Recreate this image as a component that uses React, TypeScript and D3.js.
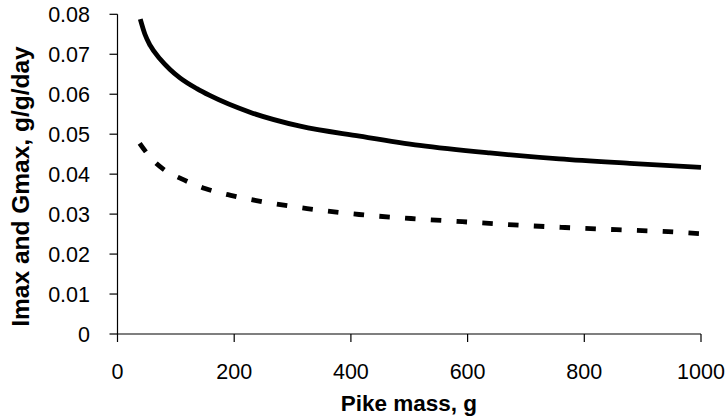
import React from "react";
import * as d3 from "d3";

// Maximum consumption (Imax) and maximum growth (Gmax) versus pike body mass
const imaxMass = [39, 47, 56, 73, 90, 107, 136, 158, 227, 313, 415, 518, 638, 757, 878, 1000];
const imaxValues = [0.0788, 0.075, 0.0722, 0.0688, 0.0662, 0.0641, 0.0614, 0.0597, 0.0555, 0.052, 0.0495, 0.0472, 0.0453, 0.0438, 0.0427, 0.0417];

const gmaxMass = [38, 48, 64, 79, 110, 150, 194, 238, 282, 325, 414, 503, 591, 679, 767, 855, 944, 1000];
const gmaxValues = [0.0477, 0.0457, 0.043, 0.0412, 0.0388, 0.0364, 0.0347, 0.0334, 0.0323, 0.0314, 0.0299, 0.0289, 0.0281, 0.0273, 0.02665, 0.0261, 0.0256, 0.0251];

const xTicks = [0, 200, 400, 600, 800, 1000];
const yTicks = [0, 0.01, 0.02, 0.03, 0.04, 0.05, 0.06, 0.07, 0.08];

const xTitle = "Pike mass, g";
const yTitle = "Imax and Gmax, g/g/day";

const W = 727;
const H = 418;
const FONT = "'Liberation Sans', Arial, sans-serif";

export default function App() {
  const x = d3.scaleLinear().domain([0, 1000]).range([117.5, 701]);
  const y = d3.scaleLinear().domain([0, 0.08]).range([334, 14.3]);

  const line = d3
    .line<[number, number]>()
    .x((d) => x(d[0]))
    .y((d) => y(d[1]))
    .curve(d3.curveMonotoneX);

  const imaxPath = line(imaxMass.map((m, i) => [m, imaxValues[i]]) as [number, number][]) || "";
  const gmaxPath = line(gmaxMass.map((m, i) => [m, gmaxValues[i]]) as [number, number][]) || "";

  const yLabel = (v: number) => (v === 0 ? "0" : d3.format(".2f")(v));

  return (
    <svg
      width={W}
      height={H}
      style={{ position: "absolute", left: 0, top: 0, background: "#fff" }}
      fontFamily={FONT}
    >
      <rect width={W} height={H} fill="#fff" />

      {/* axes */}
      <line x1={x(0)} x2={x(0)} y1={y(0.08)} y2={y(0)} stroke="#000" strokeWidth={1.2} />
      <line x1={x(0)} x2={x(1000)} y1={y(0)} y2={y(0)} stroke="#000" strokeWidth={1.2} />

      {yTicks.map((t) => (
        <g key={"y" + t}>
          <line x1={x(0) - 8} x2={x(0)} y1={y(t)} y2={y(t)} stroke="#000" strokeWidth={1.2} />
          <text x={90} y={y(t) + 7.6} textAnchor="end" fontSize={21.5} fill="#000">
            {yLabel(t)}
          </text>
        </g>
      ))}

      {xTicks.map((t) => (
        <g key={"x" + t}>
          <line x1={x(t)} x2={x(t)} y1={y(0)} y2={y(0) + 8} stroke="#000" strokeWidth={1.2} />
          <text x={x(t)} y={378.5} textAnchor="middle" fontSize={21.5} fill="#000">
            {t}
          </text>
        </g>
      ))}

      {/* series */}
      <path d={imaxPath} fill="none" stroke="#000" strokeWidth={4.8} strokeLinecap="butt" />
      <path
        d={gmaxPath}
        fill="none"
        stroke="#000"
        strokeWidth={4.8}
        strokeDasharray="10.5 15.3"
        strokeLinecap="butt"
      />

      {/* axis titles */}
      <text x={408.8} y={411} textAnchor="middle" fontSize={22.5} fontWeight="bold" fill="#000">
        {xTitle}
      </text>
      <text
        transform={`translate(28.5,186.5) rotate(-90)`}
        textAnchor="middle"
        fontSize={24.5}
        fontWeight="bold"
        fill="#000"
      >
        {yTitle}
      </text>
    </svg>
  );
}
